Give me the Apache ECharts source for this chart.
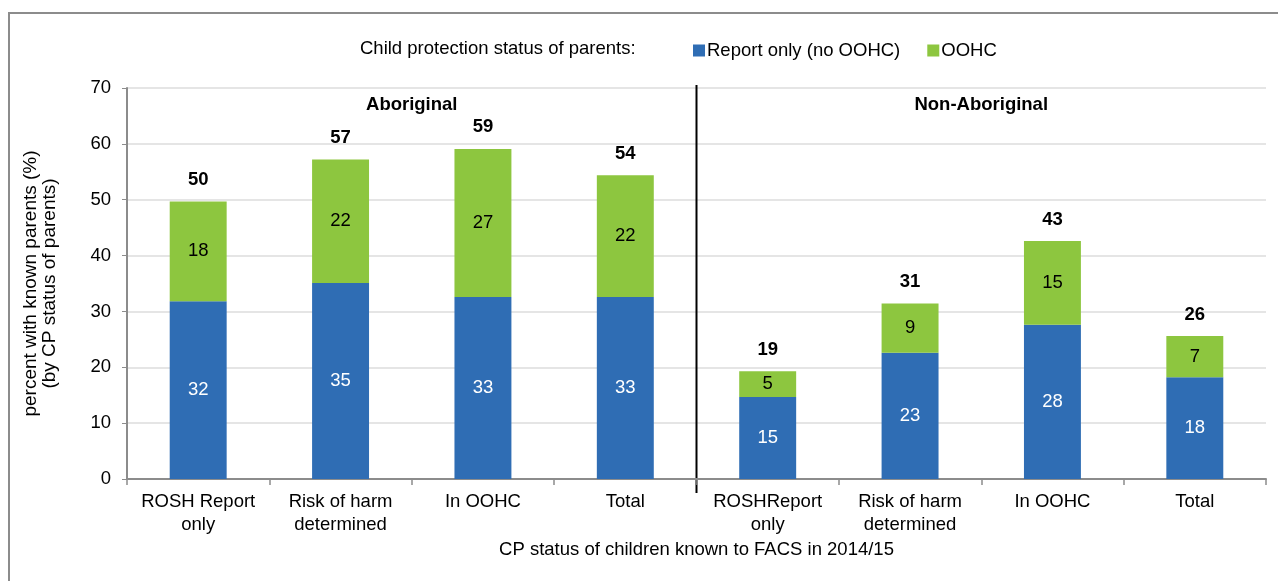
<!DOCTYPE html>
<html>
<head>
<meta charset="utf-8">
<script src="https://cdn.jsdelivr.net/npm/echarts@6/dist/echarts.min.js"></script>
<style>
  html, body { margin: 0; padding: 0; background: #fff; }
  #main { width: 1278px; height: 581px; }
</style>
</head>
<body>
<div id="main"></div>
<script>
  // categories (two groups of four)
  const categories = ['ROSH Report\nonly', 'Risk of harm\ndetermined', 'In OOHC', 'Total',
                      'ROSHReport\nonly', 'Risk of harm\ndetermined', 'In OOHC', 'Total'];
  const groups = ['Aboriginal', 'Non-Aboriginal'];
  // series values
  const reportOnly = [31.8, 35.1, 32.6, 32.6, 14.7, 22.6, 27.6, 18.2];
  const oohc       = [17.9, 22.1, 26.5, 21.8, 4.6, 8.8, 15.0, 7.4];
  const totals     = [50, 57, 59, 54, 19, 31, 43, 26];
  const yTicks = { min: 0, max: 70, interval: 10 };

  const FONT = '"Liberation Sans", Arial, sans-serif';
  const FS = 18.5;
  const chart = echarts.init(document.getElementById('main'));

  chart.setOption({
    animation: false,
    textStyle: { fontFamily: FONT },
    title: {
      text: 'Child protection status of parents:',
      left: 355, top: 34,
      textStyle: { fontFamily: FONT, fontSize: FS, fontWeight: 'normal', color: '#000' }
    },
    legend: {
      data: ['Report only (no OOHC)', 'OOHC'],
      left: 688, top: 36,
      icon: 'rect', itemWidth: 12, itemHeight: 12, itemGap: 27,
      textStyle: { fontFamily: FONT, fontSize: FS, color: '#000', padding: [0, 0, 0, -3] }
    },
    grid: { left: 127, right: 12, top: 88, bottom: 102 },
    xAxis: {
      type: 'category',
      data: categories,
      name: 'CP status of children known to FACS in 2014/15',
      nameLocation: 'middle', nameGap: 61,
      nameTextStyle: { fontFamily: FONT, fontSize: FS, color: '#000' },
      axisLine: { lineStyle: { color: '#8c8c8c', width: 2 } },
      axisTick: { show: true, length: 6, lineStyle: { color: '#8c8c8c', width: 1.5 } },
      axisLabel: { fontFamily: FONT, fontSize: FS, color: '#000', margin: 11, lineHeight: 23, interval: 0 }
    },
    yAxis: {
      type: 'value',
      min: yTicks.min, max: yTicks.max, interval: yTicks.interval,
      name: 'percent with known parents (%)\n(by CP status of parents)',
      nameLocation: 'middle', nameGap: 68, nameRotate: 90,
      nameTextStyle: { fontFamily: FONT, fontSize: 19, color: '#000', lineHeight: 19 },
      axisLine: { show: true, lineStyle: { color: '#8c8c8c', width: 2 } },
      axisTick: { show: true, length: 5, lineStyle: { color: '#8c8c8c' } },
      axisLabel: { fontFamily: FONT, fontSize: FS, color: '#000', margin: 16 },
      splitLine: { lineStyle: { color: '#dcdcdc', width: 1.5 } }
    },
    series: [
      {
        name: 'Report only (no OOHC)',
        type: 'bar', stack: 'cp',
        data: reportOnly,
        barWidth: '40%',
        itemStyle: { color: '#2f6db4' },
        label: {
          show: true, position: 'inside', color: '#fff',
          fontFamily: FONT, fontSize: FS,
          formatter: p => Math.round(p.value)
        }
      },
      {
        name: 'OOHC',
        type: 'bar', stack: 'cp',
        data: oohc,
        itemStyle: { color: '#8dc63f' },
        label: {
          show: true, position: 'inside', color: '#000',
          fontFamily: FONT, fontSize: FS,
          formatter: p => Math.round(p.value)
        }
      },
      {
        // zero-height bar that carries the total label on top of the stack
        name: 'total',
        type: 'bar', stack: 'cp',
        data: totals.map(() => 0),
        itemStyle: { color: 'transparent' },
        label: {
          show: true, position: 'top', distance: 12, color: '#000',
          fontFamily: FONT, fontSize: FS, fontWeight: 'bold',
          formatter: p => totals[p.dataIndex]
        }
      }
    ]
  });

  // divider between the two groups, group headers and outer frame
  const xa = chart.convertToPixel({ xAxisIndex: 0 }, 3);
  const xb = chart.convertToPixel({ xAxisIndex: 0 }, 4);
  const xDiv = (xa + xb) / 2;
  const yTop = chart.convertToPixel({ yAxisIndex: 0 }, 70);
  const yZero = chart.convertToPixel({ yAxisIndex: 0 }, 0);
  const yHead = chart.convertToPixel({ yAxisIndex: 0 }, 67);
  const gx1 = (chart.convertToPixel({ xAxisIndex: 0 }, 1) + chart.convertToPixel({ xAxisIndex: 0 }, 2)) / 2;
  const gx2 = (chart.convertToPixel({ xAxisIndex: 0 }, 5) + chart.convertToPixel({ xAxisIndex: 0 }, 6)) / 2;

  chart.setOption({
    graphic: [
      {
        type: 'rect', silent: true,
        shape: { x: 9, y: 13, width: 1320, height: 620 },
        style: { fill: 'none', stroke: '#8c8c8c', lineWidth: 2 }
      },
      {
        type: 'line', silent: true,
        shape: { x1: xDiv, y1: yTop - 3, x2: xDiv, y2: yZero + 14 },
        style: { stroke: '#000', lineWidth: 2 }
      },
      {
        type: 'text', silent: true, x: gx1, y: yHead,
        style: { text: groups[0], fill: '#000', font: 'bold ' + FS + 'px ' + FONT, align: 'center', verticalAlign: 'middle' }
      },
      {
        type: 'text', silent: true, x: gx2, y: yHead,
        style: { text: groups[1], fill: '#000', font: 'bold ' + FS + 'px ' + FONT, align: 'center', verticalAlign: 'middle' }
      }
    ]
  });
</script>
</body>
</html>
